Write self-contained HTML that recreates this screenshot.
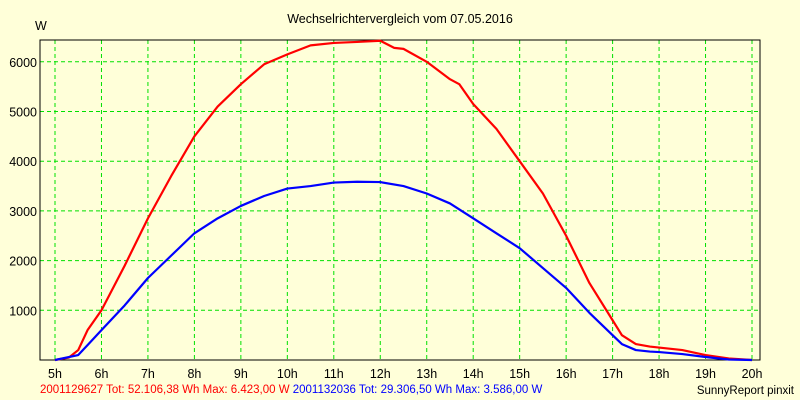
<!DOCTYPE html>
<html><head><meta charset="utf-8"><style>
body{margin:0;background:#ffffd9;}
svg{display:block;font-family:"Liberation Sans",sans-serif;}
</style></head><body>
<svg id="chart" width="800" height="400" viewBox="0 0 800 400">
<rect width="800" height="400" fill="#ffffd9"/>
<text x="400" y="23" text-anchor="middle" font-size="12.5" fill="#000">Wechselrichtervergleich vom 07.05.2016</text>
<text x="35" y="30" font-size="12.5" fill="#000">W</text>
<g id="grid"></g>
<g id="axes"></g>
<g id="series"></g>
<text x="40" y="393" font-size="11.5" fill="#ff0000">2001129627 Tot: 52.106,38 Wh Max: 6.423,00 W <tspan fill="#0000ff">2001132036 Tot: 29.306,50 Wh Max: 3.586,00 W</tspan></text>
<text x="794" y="394" text-anchor="end" font-size="11.5" fill="#000">SunnyReport pinxit</text>
</svg>
<script>
const xTicks=[5,6,7,8,9,10,11,12,13,14,15,16,17,18,19,20];
const yTicks=[1000,2000,3000,4000,5000,6000];
const redHours=[5,5.3,5.5,5.7,6,6.5,7,7.5,8,8.5,9,9.5,10,10.5,11,11.5,12,12.3,12.5,13,13.5,13.7,14,14.5,15,15.5,16,16.5,17,17.2,17.5,17.8,18,18.5,19,19.5,20];
const redValues=[0,50,200,600,1000,1900,2850,3700,4500,5100,5550,5950,6150,6330,6380,6400,6423,6280,6260,6000,5650,5550,5150,4650,4000,3350,2500,1550,800,500,320,270,250,200,100,30,0];
const blueHours=[5,5.5,5.7,6,6.5,7,7.5,8,8.5,9,9.5,10,10.5,11,11.5,12,12.5,13,13.5,14,14.5,15,15.5,16,16.5,17,17.2,17.5,17.8,18,18.5,19,19.5,20];
const blueValues=[0,100,300,600,1100,1650,2100,2550,2850,3100,3300,3450,3500,3570,3586,3580,3500,3350,3150,2850,2550,2250,1850,1450,950,500,320,200,170,160,120,60,10,0];
const NS="http://www.w3.org/2000/svg";
const L=40,R=760,T=40,B=360;
const xs=h=>55+(h-5)*(752-55)/15;
const ys=v=>360-v*0.0497;
function mk(tag,attrs,parent){const e=document.createElementNS(NS,tag);for(const k in attrs)e.setAttribute(k,attrs[k]);parent.appendChild(e);return e;}
const grid=document.getElementById('grid'),axes=document.getElementById('axes'),series=document.getElementById('series');
xTicks.forEach(h=>{
 const l=mk('line',{x1:xs(h),x2:xs(h),y1:T,y2:B,stroke:'#00e000','stroke-width':1,'stroke-dasharray':'4,3'},grid);
 
 
 const t=mk('text',{x:xs(h),y:378,'text-anchor':'middle','font-size':12.5,fill:'#000'},axes);
 t.textContent=h+'h';
 
 
});
yTicks.forEach(v=>{
 const l=mk('line',{x1:L,x2:R,y1:ys(v),y2:ys(v),stroke:'#00e000','stroke-width':1,'stroke-dasharray':'4,3'},grid);
 
 
 const t=mk('text',{x:37,y:ys(v)+5,'text-anchor':'end','font-size':12.5,fill:'#000'},axes);
 t.textContent=v;
 
 
});
const fr=mk('rect',{x:L,y:T,width:R-L,height:B-T,fill:'none',stroke:'#000','stroke-width':1},axes);


function line(hs,vs,col,name){
 const p=mk('polyline',{points:hs.map((h,i)=>xs(h)+','+ys(vs[i])).join(' '),fill:'none',stroke:col,'stroke-width':2.2,'stroke-linejoin':'round'},series);
 
 
}
line(redHours,redValues,'#ff0000','series-2001129627');
line(blueHours,blueValues,'#0000ff','series-2001132036');
</script>
</body></html>
